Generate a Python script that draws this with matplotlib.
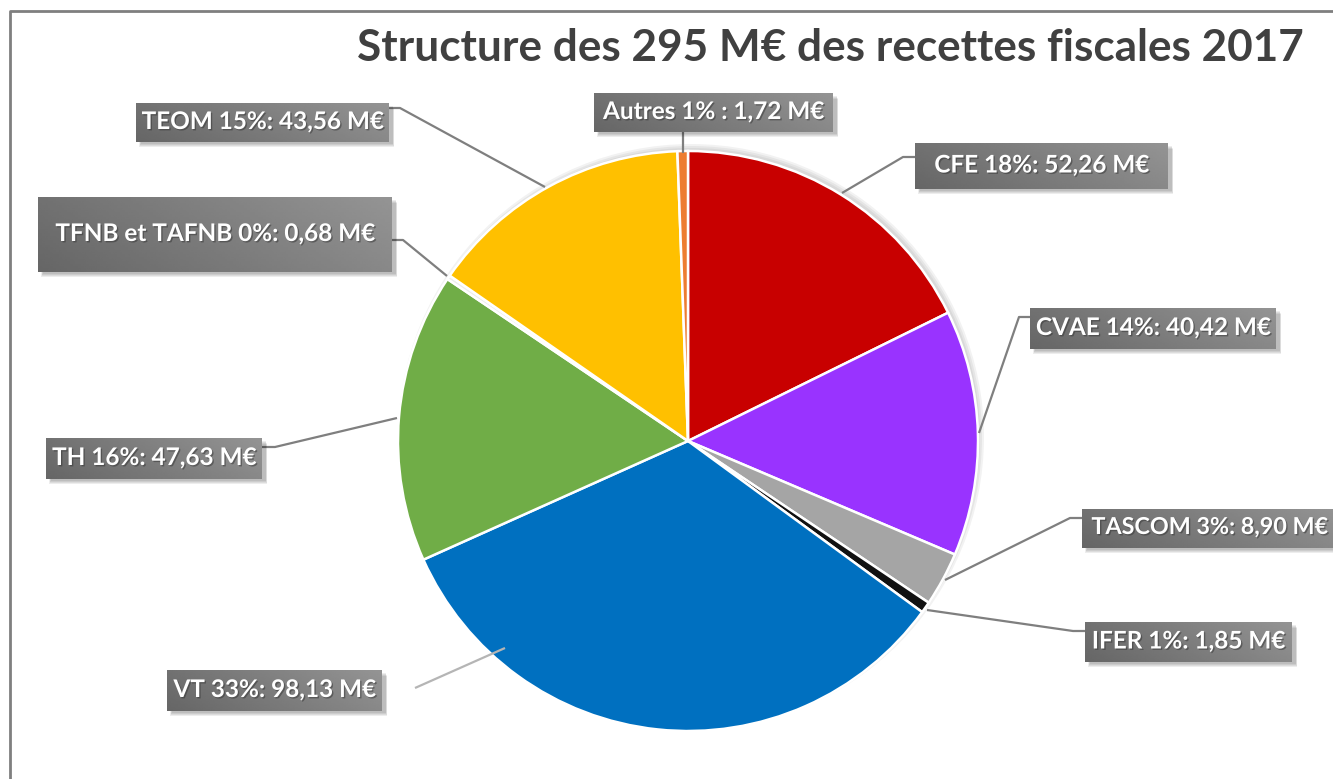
import matplotlib
matplotlib.use('Agg')
import matplotlib.pyplot as plt
import matplotlib.patheffects as pe
import numpy as np
from matplotlib.patches import Rectangle, Circle

# ---------------- data ----------------
categories = ['CFE', 'CVAE', 'TASCOM', 'IFER', 'VT', 'TH', 'TFNB et TAFNB', 'TEOM', 'Autres']
values = [52.26, 40.42, 8.90, 1.85, 98.13, 47.63, 0.68, 43.56, 1.72]
percent_labels = ['18%', '14%', '3%', '1%', '33%', '16%', '0%', '15%', '1%']
value_labels = ['52,26', '40,42', '8,90', '1,85', '98,13', '47,63', '0,68', '43,56', '1,72']
separators = [': ', ': ', ': ', ': ', ': ', ': ', ': ', ': ', ' : ']
colors = ['#C80000', '#9933FF', '#A5A5A5', '#111111', '#0070C0', '#70AD47', '#EDEDED', '#FFC000', '#ED7D31']
title = 'Structure des 295 M€ des recettes fiscales 2017'

labels = [f"{c} {p}{s}{v} M€" for c, p, s, v in zip(categories, percent_labels, separators, value_labels)]

# ---------------- layout (pixel coordinates, origin top-left) ----------------
W, H = 1333, 779
def Y(y):
    return H - y

pie_center = (688, 441)
pie_radius = 290

# label boxes: left, top, right, bottom
boxes = [
    (915, 143, 1168, 189),   # CFE
    (1030, 308, 1276, 349),  # CVAE
    (1082, 509, 1340, 548),  # TASCOM
    (1085, 622, 1292, 662),  # IFER
    (167, 670, 382, 711),    # VT
    (46, 438, 262, 479),     # TH
    (38, 197, 392, 272),     # TFNB
    (136, 103, 389, 142),    # TEOM
    (594, 93, 833, 132),     # Autres
]
# text anchor x (None = box centre) and font size per label
text_x = [None, None, 1210, None, None, None, None, None, None]
text_size = [17.5, 17.5, 16.8, 17.5, 17.5, 17.5, 17.5, 17.5, 17.5]
leaders = [
    [(842, 193), (903, 157), (915, 157)],
    [(979, 433), (1019, 317), (1030, 317)],
    [(945, 580), (1070, 518), (1082, 518)],
    [(927, 610), (1073, 631), (1085, 631)],
    [(505, 648), (415, 688)],
    [(397, 418), (275, 447), (262, 447)],
    [(447, 276), (403, 240), (392, 240)],
    [(545, 187), (400, 108), (389, 108)],
    [(683, 153), (683, 132)],
]
leader_colors = ['#7f7f7f'] * 4 + ['#b5b5b5'] + ['#7f7f7f'] * 4

FONT = 'Lato'

fig = plt.figure(figsize=(W / 100, H / 100), dpi=100)
ax = fig.add_axes([0, 0, 1, 1])

# pie shadow
for k, a in enumerate([0.05, 0.05, 0.05]):
    ax.add_patch(Circle((pie_center[0] + 3, Y(pie_center[1] - 4)), pie_radius + 3 - 2 * k,
                        color='black', alpha=a, lw=0, zorder=0.5))

ax.pie(values, colors=colors, startangle=90, counterclock=False,
       center=(pie_center[0], Y(pie_center[1])), radius=pie_radius,
       wedgeprops=dict(edgecolor='white', linewidth=1.8, zorder=1))

# leader lines
for pts, lc in zip(leaders, leader_colors):
    xs = [p[0] for p in pts]
    ys = [Y(p[1]) for p in pts]
    ax.plot(xs, ys, color=lc, lw=1.6, zorder=2, solid_capstyle='butt')

# boxes with gradient and shadow
xx, yy = np.meshgrid(np.linspace(0, 1, 128), np.linspace(0, 1, 32))
grad = 0.40 + 0.18 * (0.75 * xx + 0.25 * (1 - yy))
for (l, t, r, b), lab, tx, fs in zip(boxes, labels, text_x, text_size):
    for k in range(4):
        ax.add_patch(Rectangle((l + 3 + k * 0.5, Y(b + 5 - k)), (r - l) + 2 - k, (b - t) - 1,
                               color='black', alpha=0.07, lw=0, zorder=3))
    ax.imshow(grad, cmap='gray', vmin=0, vmax=1, extent=[l, r, Y(b), Y(t)],
              origin='upper', aspect='auto', interpolation='bilinear', zorder=4)
    cx = (l + r) / 2 if tx is None else tx
    ax.text(cx, Y((t + b) / 2) + 1, lab, color='white', fontsize=fs, fontweight='bold',
            family=FONT, ha='center', va='center', zorder=5,
            path_effects=[pe.withSimplePatchShadow(offset=(1, -1), shadow_rgbFace='#333333', alpha=0.5)])

# title
ax.text(830, Y(48), title, color='#404040', fontsize=31.8, fontweight='bold', family=FONT,
        ha='center', va='center', zorder=5)

# chart frame
ax.plot([10, 10, W], [Y(H), Y(11), Y(11)], color='#7f7f7f', lw=2, zorder=6)

ax.set_xlim(0, W)
ax.set_ylim(0, H)
ax.set_aspect('auto')
ax.axis('off')

fig.savefig('out.png', dpi=100)
